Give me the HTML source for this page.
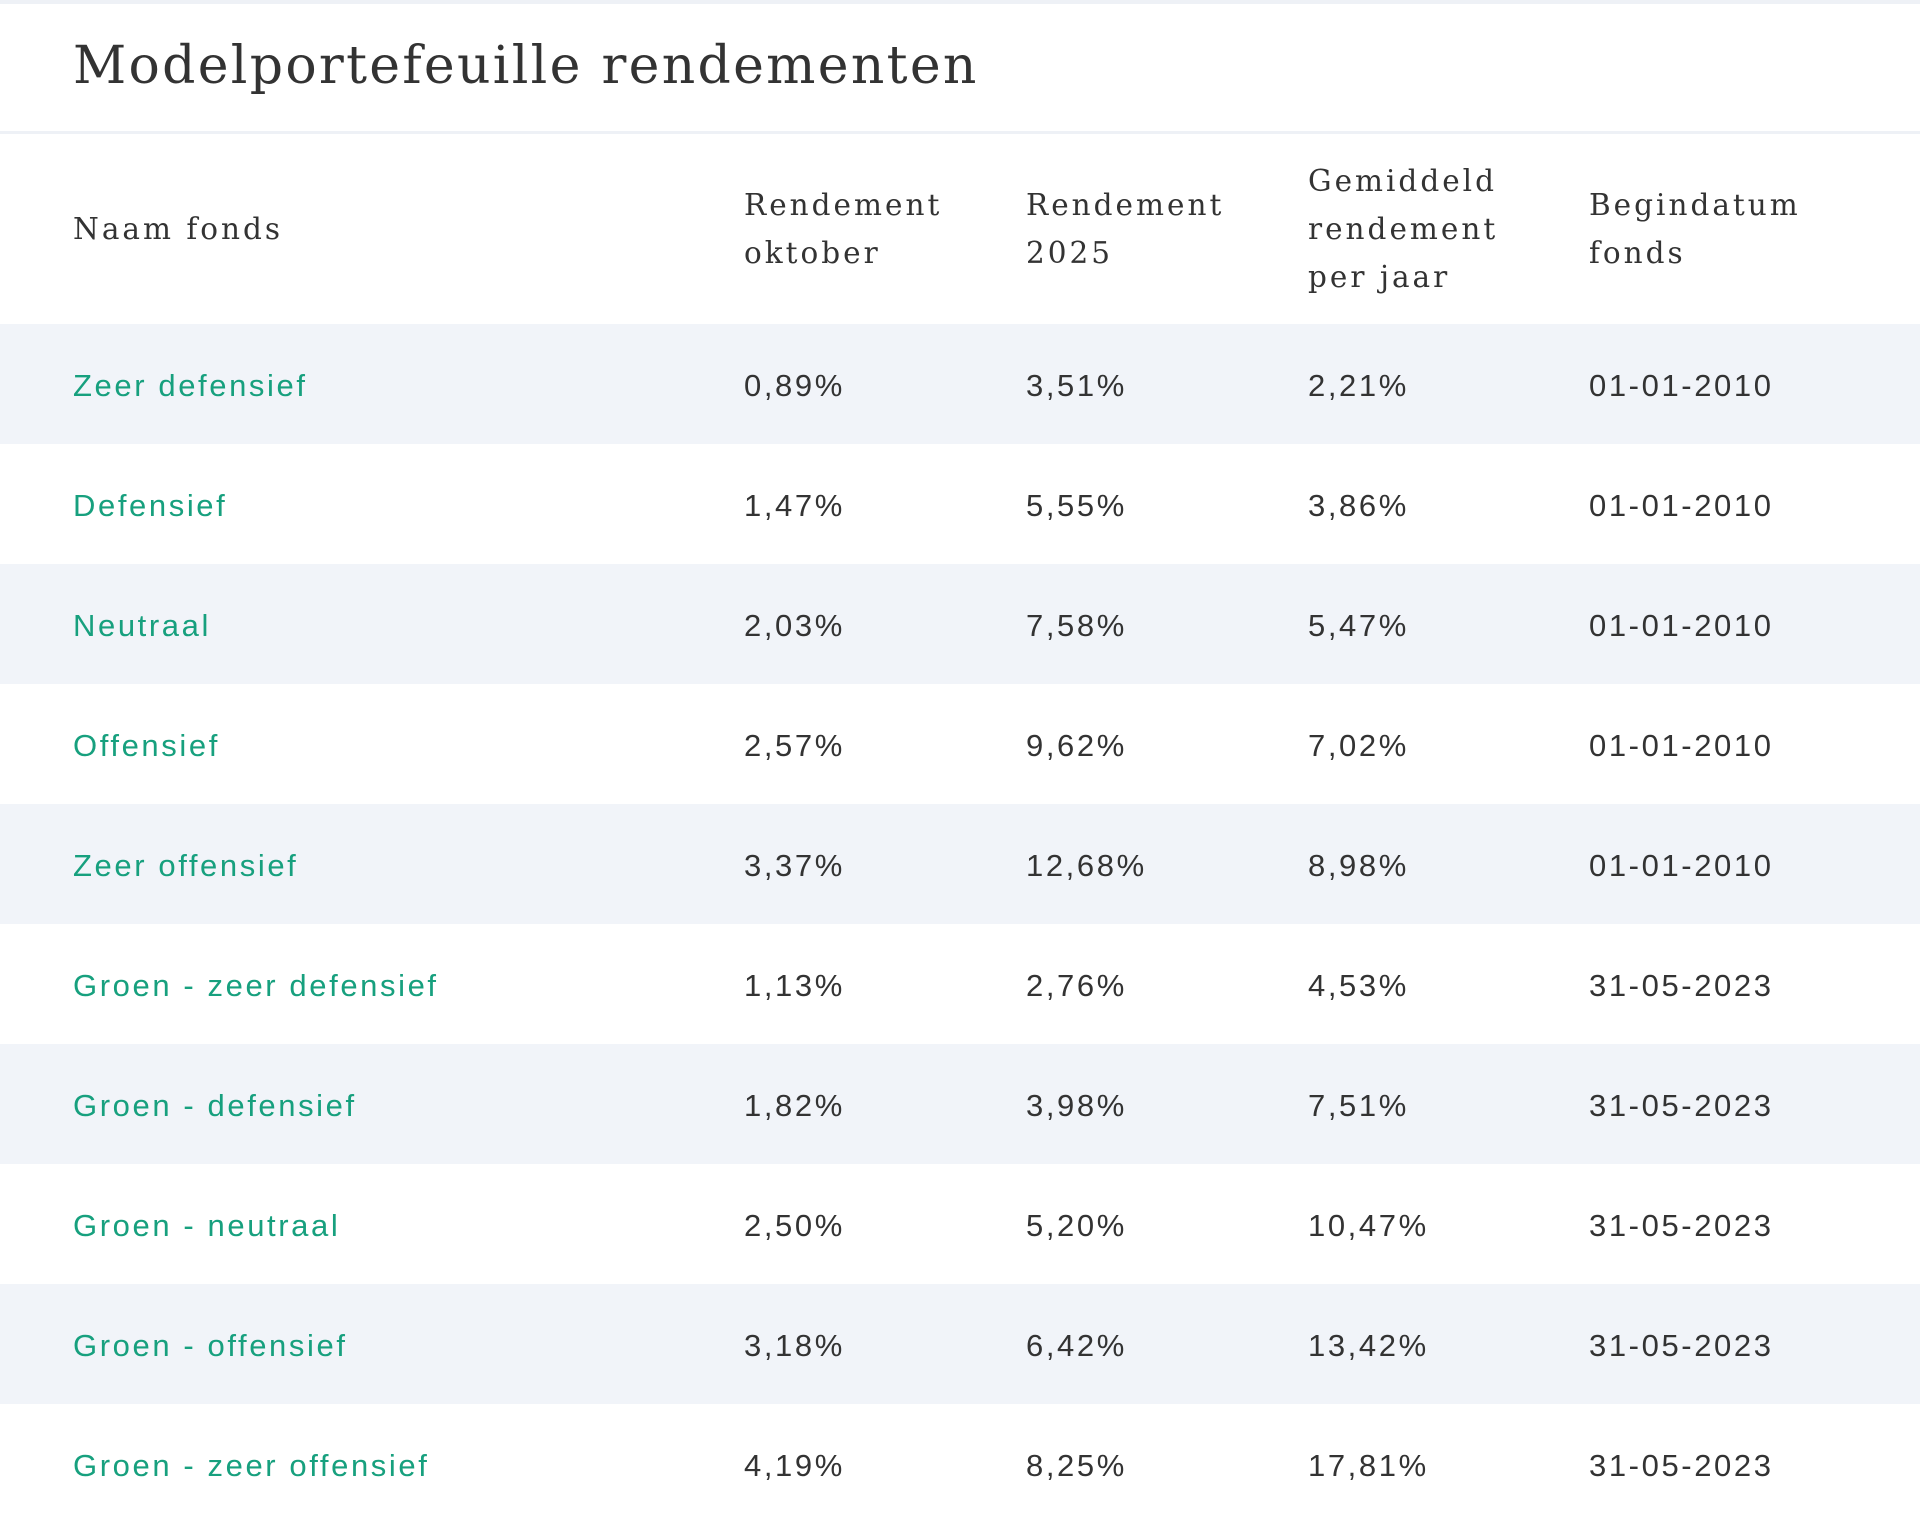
<!DOCTYPE html>
<html><head><meta charset="utf-8"><style>
html,body{margin:0;padding:0;background:#fff;}
body{width:1920px;height:1524px;position:relative;overflow:hidden;}
.top{position:absolute;left:0;top:0;width:1920px;height:4px;background:#eef1f6;}
.title{position:absolute;left:73px;top:31px;font-family:"DejaVu Serif","Liberation Serif",serif;font-size:52px;color:#333;letter-spacing:2.3px;line-height:70px;white-space:nowrap;}
.sep{position:absolute;left:0;top:131px;width:1920px;height:3px;background:#eef1f6;}
.hd{position:absolute;top:134px;height:190px;display:flex;align-items:center;font-family:"DejaVu Serif","Liberation Serif",serif;font-size:29.5px;line-height:48px;color:#333;letter-spacing:3px;}
.row{position:absolute;left:0;width:1920px;height:120px;}
.row.s{background:#f1f4f9;}
.c{position:absolute;top:2px;height:120px;line-height:120px;font-family:"Liberation Sans",sans-serif;font-size:31px;color:#333;letter-spacing:2.6px;white-space:nowrap;}
.g{color:#17a07e;}
</style></head><body>
<div class="top"></div>
<div class="title">Modelportefeuille rendementen</div>
<div class="sep"></div>
<div class="hd" style="left:73px">Naam fonds</div>
<div class="hd" style="left:744px">Rendement<br>oktober</div>
<div class="hd" style="left:1026px">Rendement<br>2025</div>
<div class="hd" style="left:1308px">Gemiddeld<br>rendement<br>per jaar</div>
<div class="hd" style="left:1589px">Begindatum<br>fonds</div>

<div class="row s" style="top:324px"><div class="c g" style="left:73px">Zeer defensief</div><div class="c" style="left:744px">0,89%</div><div class="c" style="left:1026px">3,51%</div><div class="c" style="left:1308px">2,21%</div><div class="c" style="left:1589px">01-01-2010</div></div>
<div class="row" style="top:444px"><div class="c g" style="left:73px">Defensief</div><div class="c" style="left:744px">1,47%</div><div class="c" style="left:1026px">5,55%</div><div class="c" style="left:1308px">3,86%</div><div class="c" style="left:1589px">01-01-2010</div></div>
<div class="row s" style="top:564px"><div class="c g" style="left:73px">Neutraal</div><div class="c" style="left:744px">2,03%</div><div class="c" style="left:1026px">7,58%</div><div class="c" style="left:1308px">5,47%</div><div class="c" style="left:1589px">01-01-2010</div></div>
<div class="row" style="top:684px"><div class="c g" style="left:73px">Offensief</div><div class="c" style="left:744px">2,57%</div><div class="c" style="left:1026px">9,62%</div><div class="c" style="left:1308px">7,02%</div><div class="c" style="left:1589px">01-01-2010</div></div>
<div class="row s" style="top:804px"><div class="c g" style="left:73px">Zeer offensief</div><div class="c" style="left:744px">3,37%</div><div class="c" style="left:1026px">12,68%</div><div class="c" style="left:1308px">8,98%</div><div class="c" style="left:1589px">01-01-2010</div></div>
<div class="row" style="top:924px"><div class="c g" style="left:73px">Groen - zeer defensief</div><div class="c" style="left:744px">1,13%</div><div class="c" style="left:1026px">2,76%</div><div class="c" style="left:1308px">4,53%</div><div class="c" style="left:1589px">31-05-2023</div></div>
<div class="row s" style="top:1044px"><div class="c g" style="left:73px">Groen - defensief</div><div class="c" style="left:744px">1,82%</div><div class="c" style="left:1026px">3,98%</div><div class="c" style="left:1308px">7,51%</div><div class="c" style="left:1589px">31-05-2023</div></div>
<div class="row" style="top:1164px"><div class="c g" style="left:73px">Groen - neutraal</div><div class="c" style="left:744px">2,50%</div><div class="c" style="left:1026px">5,20%</div><div class="c" style="left:1308px">10,47%</div><div class="c" style="left:1589px">31-05-2023</div></div>
<div class="row s" style="top:1284px"><div class="c g" style="left:73px">Groen - offensief</div><div class="c" style="left:744px">3,18%</div><div class="c" style="left:1026px">6,42%</div><div class="c" style="left:1308px">13,42%</div><div class="c" style="left:1589px">31-05-2023</div></div>
<div class="row" style="top:1404px"><div class="c g" style="left:73px">Groen - zeer offensief</div><div class="c" style="left:744px">4,19%</div><div class="c" style="left:1026px">8,25%</div><div class="c" style="left:1308px">17,81%</div><div class="c" style="left:1589px">31-05-2023</div></div>
</body></html>
